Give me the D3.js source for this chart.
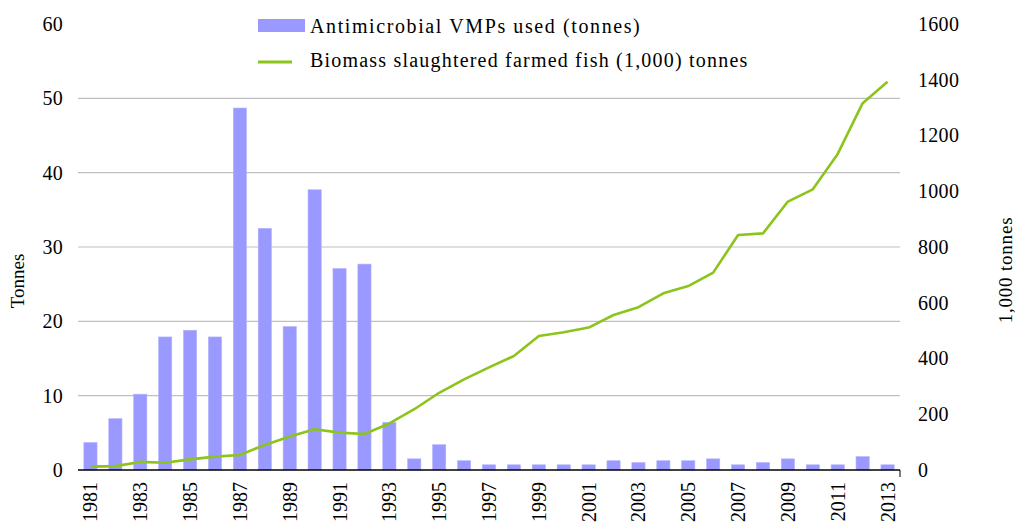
<!DOCTYPE html>
<html><head><meta charset="utf-8">
<script src="https://cdn.jsdelivr.net/npm/d3@7"></script>
<style>body{margin:0;background:#fff}svg{display:block}text{font-family:"Liberation Serif","Times New Roman",serif;fill:#000}</style>
</head><body><svg id="c" width="1017" height="531"></svg>
<script>
const years = d3.range(1981, 2014).map(String);
const antimicrobial = [3.7,6.9,10.2,17.9,18.8,17.9,48.7,32.5,19.3,37.7,27.1,27.7,6.4,1.5,3.4,1.25,0.7,0.7,0.7,0.7,0.7,1.25,1.0,1.25,1.25,1.5,0.7,1.0,1.5,0.7,0.7,1.8,0.7];
const biomass = [12,14,29,26,38,48,54,90,120,146,134,129,167,218,277,325,368,409,481,494,511,556,584,634,660,708,843,849,963,1007,1134,1316,1393];
const leftTicks = [0,10,20,30,40,50,60];
const rightTicks = [0,200,400,600,800,1000,1200,1400,1600];
const xLabels = years.filter((d,i)=>i%2===0);
const legendLabels = ["Antimicrobial VMPs used (tonnes)","Biomass slaughtered farmed fish (1,000) tonnes"];

const svg = d3.select("#c");
const L=78, R=900, T=24, B=470;
const FS = 20;
const x = d3.scaleBand().domain(years).range([L,R]).paddingInner(0.47).paddingOuter(0.235);
const yL = d3.scaleLinear().domain([0,60]).range([B,T]);
const yR = d3.scaleLinear().domain([0,1600]).range([B,T]);

// gridlines
svg.append("g").selectAll("line").data(leftTicks.filter(d=>d>0&&d<60)).join("line")
  .attr("x1",L).attr("x2",R).attr("y1",d=>yL(d)).attr("y2",d=>yL(d))
  .attr("stroke","#bfbfbf").attr("stroke-width",1.2);

// bars
svg.append("g").selectAll("rect").data(antimicrobial).join("rect")
  .attr("x",(d,i)=>x(years[i])).attr("width",x.bandwidth())
  .attr("y",d=>yL(d)).attr("height",d=>B-yL(d))
  .attr("fill","#9999ff").attr("stroke","#b3b3ff").attr("stroke-width",0.6);

// baseline
svg.append("line").attr("x1",L).attr("x2",R).attr("y1",B).attr("y2",B).attr("stroke","#000").attr("stroke-width",1.5);
svg.append("line").attr("x1",R).attr("x2",R).attr("y1",B).attr("y2",B+7).attr("stroke","#000").attr("stroke-width",1);

// line
const line = d3.line().x((d,i)=>x(years[i])+x.bandwidth()/2).y(d=>yR(d));
svg.append("path").datum(biomass).attr("d",line).attr("fill","none")
  .attr("stroke","#8cc41c").attr("stroke-width",2.6).attr("stroke-linejoin","round");

// left axis labels
const axL = d3.axisLeft(yL).tickValues(leftTicks).tickSize(0).tickPadding(0);
const gL = svg.append("g").attr("transform",`translate(${L-15},0)`).call(axL);
gL.select(".domain").remove();
gL.selectAll("text").attr("font-size",FS).attr("font-family","Liberation Serif").attr("letter-spacing",0.3);

// right axis labels
const axR = d3.axisRight(yR).tickValues(rightTicks).tickFormat(d3.format("d")).tickSize(0).tickPadding(0);
const gR = svg.append("g").attr("transform",`translate(${R+18},0)`).call(axR);
gR.select(".domain").remove();
gR.selectAll("text").attr("font-size",FS).attr("font-family","Liberation Serif").attr("letter-spacing",0.3);

// x axis labels
const axX = d3.axisBottom(x).tickValues(xLabels).tickSize(0).tickPadding(0);
const gX = svg.append("g").attr("transform",`translate(0,${B})`).call(axX);
gX.select(".domain").remove();
gX.selectAll("text").attr("font-size",FS).attr("font-family","Liberation Serif")
  .attr("text-anchor","end").attr("dy","0.35em")
  .attr("transform","translate(0,12) rotate(-90)").attr("x",0).attr("y",0);

// axis titles
svg.append("text").attr("transform","translate(24,281) rotate(-90)").attr("text-anchor","middle")
  .attr("font-size",19).text("Tonnes");
svg.append("text").attr("transform","translate(1012,270) rotate(-90)").attr("text-anchor","middle")
  .attr("font-size",19).attr("letter-spacing",0.8).text("1,000 tonnes");

// legend
const lg = svg.append("g");
lg.append("rect").attr("x",258).attr("y",19).attr("width",47).attr("height",13).attr("fill","#9999ff");
lg.append("line").attr("x1",258).attr("x2",292).attr("y1",62).attr("y2",62).attr("stroke","#8cc41c").attr("stroke-width",3);
lg.selectAll("text").data(legendLabels).join("text")
  .attr("x",310).attr("y",(d,i)=>i===0?33:67)
  .attr("letter-spacing",(d,i)=>i===0?1.6:1.2)
  .attr("font-size",FS).text(d=>d);
</script></body></html>
